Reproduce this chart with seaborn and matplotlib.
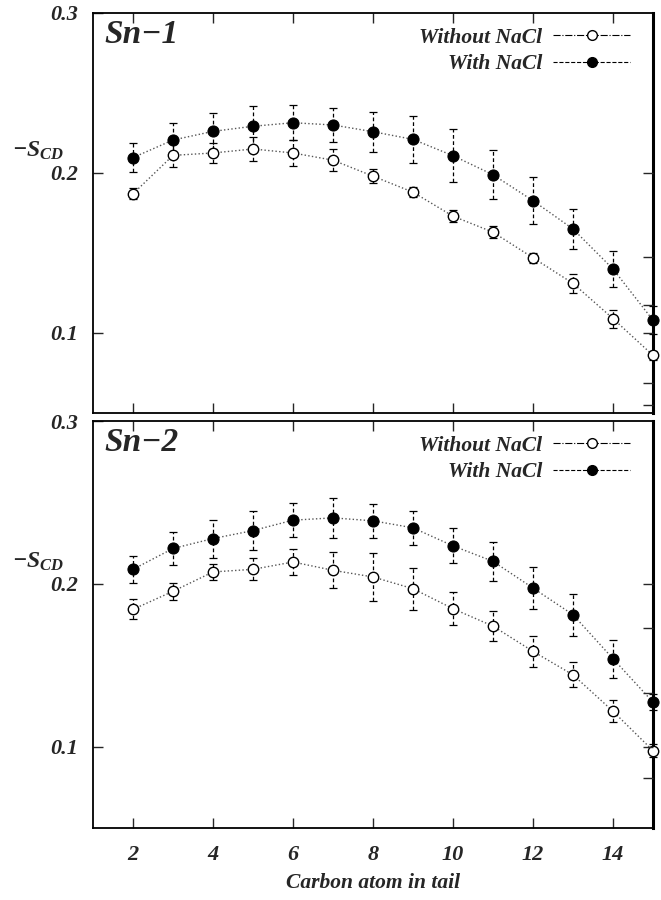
import numpy as np
import matplotlib
matplotlib.use("Agg")
import matplotlib.pyplot as plt
import seaborn as sns
from matplotlib.lines import Line2D

# carbon positions along the tail
carbon = [2, 3, 4, 5, 6, 7, 8, 9, 10, 11, 12, 13, 14, 15]

# Sn-1 chain order parameters
sn1_without = [0.187, 0.211, 0.2125, 0.215, 0.2125, 0.208, 0.198, 0.188, 0.173, 0.163, 0.147, 0.131, 0.109, 0.086]
sn1_without_err = [0.0035, 0.0075, 0.0063, 0.0076, 0.008, 0.0067, 0.0044, 0.003, 0.0038, 0.0038, 0.0033, 0.006, 0.0056, 0.003]
sn1_with = [0.2096, 0.2206, 0.226, 0.2292, 0.2314, 0.230, 0.2258, 0.221, 0.2108, 0.1989, 0.1827, 0.165, 0.140, 0.108]
sn1_with_err = [0.0092, 0.0106, 0.0113, 0.0129, 0.0108, 0.0108, 0.0125, 0.0146, 0.0167, 0.0154, 0.0146, 0.0123, 0.011, 0.0087]

# Sn-2 chain order parameters
sn2_without = [0.1843, 0.1954, 0.2073, 0.2089, 0.2134, 0.2083, 0.2042, 0.197, 0.1847, 0.174, 0.1585, 0.1441, 0.1217, 0.0975]
sn2_without_err = [0.0062, 0.0051, 0.0051, 0.0067, 0.0077, 0.011, 0.015, 0.0128, 0.0103, 0.009, 0.0093, 0.0077, 0.0067, 0.004]
sn2_with = [0.2089, 0.2217, 0.2278, 0.2327, 0.2391, 0.2405, 0.2387, 0.2344, 0.2233, 0.2138, 0.1974, 0.181, 0.154, 0.1273]
sn2_with_err = [0.0082, 0.0103, 0.0117, 0.0121, 0.0105, 0.0123, 0.0105, 0.0105, 0.0108, 0.0118, 0.013, 0.013, 0.0117, 0.005]

panel_names = ["Sn\u22121", "Sn\u22122"]
y_ticks = [0.1, 0.2, 0.3]
x_ticks = [2, 4, 6, 8, 10, 12, 14]
# stray ticks on the right-hand axis
right_ticks = [[0.055, 0.069, 0.1, 0.1175, 0.1475, 0.2], [0.081, 0.1, 0.133, 0.173, 0.2]]

sns.set_style("ticks")
plt.rcParams['font.family'] = ['Liberation Serif', 'DejaVu Serif']
plt.rcParams['font.weight'] = 'bold'
plt.rcParams['font.style'] = 'italic'
plt.rcParams['axes.labelweight'] = 'bold'
plt.rcParams['mathtext.fontset'] = 'custom'
plt.rcParams['mathtext.it'] = 'Liberation Serif:italic:bold'
plt.rcParams['mathtext.rm'] = 'Liberation Serif:bold'
plt.rcParams['mathtext.bf'] = 'Liberation Serif:bold'

fig = plt.figure(figsize=(6.61, 9.0), dpi=100)
ax1 = fig.add_axes([0.1407, 0.5411, 0.8472, 0.4445])
ax2 = fig.add_axes([0.1407, 0.0800, 0.8472, 0.4522])

panels = [
    (ax1, sn1_without, sn1_without_err, sn1_with, sn1_with_err),
    (ax2, sn2_without, sn2_without_err, sn2_with, sn2_with_err),
]

for i, (ax, wo, wo_err, wi, wi_err) in enumerate(panels):
    # error bars first, dashed
    for vals, errs in [(wo, wo_err), (wi, wi_err)]:
        eb = ax.errorbar(carbon, vals, yerr=errs, fmt='none', ecolor='black',
                         elinewidth=0.9, capsize=3, capthick=0.9, clip_on=False, zorder=2)
        for lc in eb[2]:
            lc.set_linestyle((0, (3, 2)))

    sns.lineplot(x=carbon, y=wo, ax=ax, color='#555555', linestyle=':', linewidth=1.0,
                 marker='o', markersize=7.5, markerfacecolor='white', markeredgecolor='black',
                 markeredgewidth=1.0, clip_on=False, zorder=3)
    sns.lineplot(x=carbon, y=wi, ax=ax, color='#555555', linestyle=':', linewidth=1.0,
                 marker='o', markersize=8, markerfacecolor='black', markeredgecolor='black',
                 clip_on=False, zorder=4)

    ax.set_xlim(1, 15)
    ax.set_ylim(0.05, 0.3)
    ax.set_xticks(x_ticks)
    ax.set_yticks(y_ticks)
    ax.set_yticklabels([f"{t:.1f}" for t in y_ticks], fontsize=16)
    ax.tick_params(axis='both', direction='in', length=7, width=1.0, top=True)
    ax.tick_params(axis='y', pad=11, right=False)
    ax.tick_params(axis='x', pad=12, labelsize=16)
    if i == 0:
        ax.set_xticklabels([])
    for sp in ax.spines.values():
        sp.set_linewidth(1.3)
        sp.set_color('black')
    ax.spines['right'].set_linewidth(2.2)

    # right axis ticks without labels
    axr = ax.twinx()
    axr.set_ylim(0.05, 0.3)
    axr.set_yticks(right_ticks[i])
    axr.set_yticklabels([])
    axr.tick_params(axis='y', direction='in', length=7, width=1.0)
    for sp in axr.spines.values():
        sp.set_visible(False)

    ax.text(0.02, 0.985, panel_names[i], transform=ax.transAxes, fontsize=24,
            ha='left', va='top')
    ax.set_ylabel(r"$-S_{CD}$", rotation=0, fontsize=17)
    ax.yaxis.set_label_coords(-0.098, 0.627)
    ax.set_xlabel("")

    handles = [
        Line2D([0], [0], color='black', linestyle='-.', linewidth=0.8, marker='o',
               markersize=7, markerfacecolor='white', markeredgecolor='black'),
        Line2D([0], [0], color='black', linestyle='--', linewidth=0.8, marker='o',
               markersize=7, markerfacecolor='black', markeredgecolor='black'),
    ]
    ax.legend(handles, ["Without NaCl", "With NaCl"], loc='upper right', frameon=False,
              markerfirst=False, fontsize=15.5, handlelength=3.6, handletextpad=0.5,
              labelspacing=0.3, borderaxespad=0.0, bbox_to_anchor=(0.975, 0.985))

ax2.set_xlabel("Carbon atom in tail", fontsize=15.5, labelpad=6)

fig.savefig("out.png", dpi=100)
